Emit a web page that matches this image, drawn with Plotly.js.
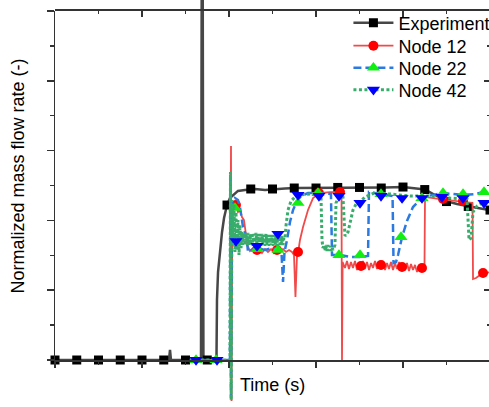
<!DOCTYPE html>
<html>
<head>
<meta charset="utf-8">
<script src="https://cdn.plot.ly/plotly-3.0.1.min.js"></script>
<style>
html,body{margin:0;padding:0;overflow:hidden;background:#fff;}
#chart{width:505px;height:407px;}
</style>
</head>
<body>
<div id="chart"></div>
<script>
// ---------- data (time, normalized mass flow rate) ----------
const expT = [0,131.0,132.2,133.3,167.8,168.7,169.7,170.6,185.6,186.2,187.4,189.7,192.0,194.3,197.7,201.1,204.6,210.3,218.4,229.9,241.4,252.9,264.4,275.9,293.1,310.3,327.6,344.8,362.1,379.3,400,413.8,425.3,436.8,449.4,462.1,474.7,486.2,500,501.2];
const expV = [0,0,0.072,0,0,3.0,3.0,0,0,0.43,0.63,0.788,0.917,1.017,1.110,1.160,1.182,1.211,1.218,1.225,1.218,1.225,1.228,1.232,1.232,1.236,1.236,1.236,1.232,1.236,1.239,1.232,1.221,1.182,1.139,1.117,1.100,1.089,1.074,1.073];
const expMarkT = [0,25,50,75,100,125,150,175,197.7,225,250,275,300,325,350,375,400,425,450,475,500];
const expMarkV = [0,0,0,0,0,0,0,0,1.110,1.225,1.225,1.232,1.232,1.236,1.236,1.232,1.239,1.221,1.135,1.100,1.074];

const n12T = [155,201.1,202.3,202.9,203.8,205.7,208.0,210.3,212.6,214.9,217.2,219.5,221.3,224.1,227.6,231.0,234.5,237.9,241.4,244.8,248.3,251.7,255.2,258.6,262.1,265.5,269.0,272.4,274.7,276.4,278.2,279.9,281.6,285.1,290.8,296.6,304.6,316.1,329.3,329.9,330.6,333.3,335.6,337.9,340.2,342.5,344.8,347.1,349.4,351.7,354.0,356.3,358.6,361.0,363.2,365.5,367.8,370.1,372.4,374.7,377.0,379.3,381.6,383.9,386.2,388.5,390.8,393.1,395.4,397.7,400,402.3,404.6,406.9,409.2,411.5,413.8,416.1,418.4,420.7,423.0,424.7,425.3,442.5,459.8,474.7,479.9,480.5,483.9,488.5,494.3,501.2];
const n12V = [0,0,1.533,-0.294,1.039,1.125,1.110,1.060,1.074,1.024,1.003,0.917,0.817,0.781,0.802,0.774,0.795,0.766,0.795,0.774,0.795,0.766,0.788,0.774,0.795,0.774,0.788,0.774,0.752,0.451,0.752,0.788,0.860,0.953,1.074,1.160,1.196,1.203,1.203,0,0.702,0.659,0.709,0.652,0.702,0.659,0.709,0.645,0.695,0.666,0.709,0.652,0.702,0.645,0.695,0.659,0.709,0.652,0.702,0.666,0.709,0.645,0.695,0.652,0.702,0.645,0.695,0.652,0.702,0.645,0.688,0.645,0.695,0.638,0.688,0.645,0.681,0.630,0.681,0.638,0.666,0.659,1.168,1.153,1.139,1.132,1.125,0.580,0.587,0.609,0.623,0.630];
const n12MarkT = [208.0,232.2,255.2,279.3,303.4,327.6,351.7,374.7,398.9,421.8,446.0,469.0,492.0];
const n12MarkV = [1.110,0.788,0.788,0.774,1.196,1.203,0.673,0.681,0.666,0.659,1.153,1.139,0.623];

const n22T = [155,201.1,201.6,202.3,203.4,206.9,210.3,212.6,216.1,220.3,221.8,226.4,233.3,241.4,249.4,257.5,260.3,262.1,263.8,266.7,270.1,273.6,278.2,282.8,290.8,304.6,317.2,318.4,327.6,339.1,350.6,359.8,360.9,373.6,388.0,389.1,392.0,394.3,398.9,404.6,411.5,419.5,428.7,446.0,469.0,482.8,493.1,501.2];
const n22V = [0,0,1.325,-0.272,1.110,1.160,1.146,1.096,0.953,0.881,0.774,0.788,0.802,0.788,0.802,0.788,0.774,0.559,0.774,0.860,0.989,1.074,1.139,1.175,1.196,1.196,1.189,0.752,0.752,0.738,0.738,0.745,1.203,1.189,1.175,0.695,0.702,0.752,0.881,0.996,1.096,1.146,1.175,1.196,1.182,1.189,1.203,1.203];
const n22MarkT = [162.1,185.1,206.9,232.2,256.3,279.3,302.3,326.4,350.6,374.7,397.7,421.8,446.0,469.0,493.1];
const n22MarkV = [0,0,1.089,0.795,0.788,1.125,1.196,0.752,0.752,1.189,0.881,1.160,1.196,1.189,1.203];

const n42T = [155,201.1,201.7,202.5,203.4,204.6,205.7,206.9,208.0,209.2,210.3,211.5,212.6,213.8,214.9,216.1,217.2,218.4,219.5,220.7,221.8,223.0,224.1,225.3,226.4,227.6,228.7,229.9,231.0,232.2,233.3,234.5,235.6,236.8,237.9,239.1,240.2,241.4,242.5,243.7,244.8,246.0,247.1,248.3,249.4,250.6,251.7,252.9,254.0,255.2,256.3,257.5,258.6,259.8,260.9,262.1,263.2,264.4,265.5,267.8,271.3,275.9,281.6,293.1,305.7,306.9,308.0,309.2,310.3,311.5,312.6,313.8,314.9,316.1,317.2,318.4,319.5,321.8,323.0,326.4,331.0,333.3,336.8,339.1,342.5,346.0,350.6,356.3,366.7,385.1,408.0,431.0,454.0,473.6,475.9,478.2,480.5,485.1,493.1,501.2];
const n42V = [0,0,1.347,-0.287,1.146,0.860,1.110,0.774,1.060,0.788,1.003,0.752,0.967,0.802,0.917,0.824,0.910,0.824,0.910,0.824,0.910,0.824,0.903,0.824,0.910,0.817,0.903,0.824,0.910,0.817,0.903,0.824,0.903,0.817,0.903,0.824,0.896,0.817,0.903,0.824,0.896,0.817,0.896,0.824,0.896,0.817,0.896,0.824,0.888,0.817,0.896,0.824,0.888,0.817,0.888,0.824,0.881,0.874,0.960,1.074,1.139,1.168,1.182,1.189,1.182,0.860,0.802,0.824,0.781,0.824,0.781,0.824,0.781,0.817,0.781,0.809,0.788,0.824,1.125,1.175,1.168,0.888,0.917,0.989,1.074,1.117,1.132,1.168,1.196,1.189,1.175,1.175,1.160,1.153,0.860,0.874,1.060,1.103,1.132,1.139];
const n42MarkT = [162.1,186.2,208.0,232.2,256.3,279.3,303.4,326.4,350.6,374.7,398.9,421.8,444.8,469.0,493.1];
const n42MarkV = [0,0,0.852,0.817,0.903,1.182,1.175,1.175,1.125,1.175,1.160,1.160,1.168,1.160,1.125];

const seriesNames = ['Experiment','Node 12','Node 22','Node 42'];
const xTitle = 'Time (s)';
const yTitle = 'Normalized mass flow rate (-)';

// ---------- styles ----------
const FONT = 'Liberation Sans, Arial, Helvetica, sans-serif';
const styles = [
  {line:{color:'#474747', width:2.5}, marker:{symbol:'square', size:9, color:'#000000'}},
  {line:{color:'#f04a4a', width:1.8}, marker:{symbol:'circle', size:10, color:'#ff0000'}},
  {line:{color:'#2a7ae2', width:2.5, dash:'8px,4px'}, marker:{symbol:'triangle-up', size:11.5, color:'#11ee11'}},
  {line:{color:'#38ad6b', width:3, dash:'3px,2.5px'}, marker:{symbol:'triangle-down', size:11.5, color:'#0000ff'}}
];
const lineData = [[expT,expV],[n12T,n12V],[n22T,n22V],[n42T,n42V]];
const markData = [[expMarkT,expMarkV],[n12MarkT,n12MarkV],[n22MarkT,n22MarkV],[n42MarkT,n42MarkV]];

const traces = [];
for (let i = 0; i < 4; i++) {
  traces.push({x:lineData[i][0], y:lineData[i][1], mode:'lines', line:styles[i].line,
    showlegend:false, hoverinfo:'skip', xaxis:'x', yaxis:'y'});
  traces.push({x:markData[i][0], y:markData[i][1], mode:'markers', marker:styles[i].marker,
    showlegend:false, hoverinfo:'skip', xaxis:'x', yaxis:'y', cliponaxis:false});
}
const legendIds = ['legend','legend2','legend3','legend4'];
for (let i = 0; i < 4; i++) {
  traces.push({x:[null], y:[null], mode:'lines+markers', name:seriesNames[i],
    line:styles[i].line, marker:styles[i].marker, legend:legendIds[i], xaxis:'x', yaxis:'y'});
}
traces.push({x:[null], y:[null], xaxis:'x2', yaxis:'y2', showlegend:false, hoverinfo:'skip'});
traces.push({x:[null], y:[null], xaxis:'x3', yaxis:'y3', showlegend:false, hoverinfo:'skip'});

// ---------- geometry ----------
const XR = [0, 501.15];
const frameDom = [0.115479, 0.972973];
const axCol = '#333333';
function frameX(side, ticks, anchor) {
  return {domain:[0,1], range:XR, anchor:anchor, side:side, showline:true, linecolor:axCol, linewidth:1.5,
    ticks:ticks, ticklen:6, tickwidth:1.5, tickcolor:axCol, tick0:0, dtick:100, showticklabels:false,
    showgrid:false, zeroline:false, fixedrange:true,
    minor:{dtick:50, ticks:ticks, ticklen:3, tickwidth:1.5, tickcolor:axCol, showgrid:false}};
}
function frameY(side, ticks, anchor) {
  return {domain:frameDom, range:[0,2.5], anchor:anchor, side:side, showline:true, linecolor:axCol, linewidth:1.5,
    ticks:ticks, ticklen:7, tickwidth:1.5, tickcolor:axCol, tick0:0, dtick:0.5, showticklabels:false,
    showgrid:false, zeroline:false, fixedrange:true,
    minor:{dtick:0.25, ticks:ticks, ticklen:4, tickwidth:1.5, tickcolor:axCol, showgrid:false}};
}
function leg(yc) {
  return {x:0.673, xanchor:'left', y:yc, yanchor:'middle', bgcolor:'rgba(0,0,0,0)', borderwidth:0,
    itemwidth:40, font:{family:FONT, size:18, color:'#000'}};
}

const layout = {
  width:505, height:407,
  margin:{l:55, r:14, t:0, b:0, pad:0},
  paper_bgcolor:'#ffffff', plot_bgcolor:'rgba(0,0,0,0)',
  font:{family:FONT, size:18, color:'#000'},
  xaxis:{domain:[0,1], range:XR, visible:false, fixedrange:true},
  yaxis:{domain:[0,1], range:[-0.3367, 2.5788], visible:false, fixedrange:true},
  xaxis2:frameX('bottom','outside','y2'),
  yaxis2:frameY('left','outside','x2'),
  xaxis3:frameX('top','inside','y3'),
  yaxis3:frameY('right','inside','x3'),
  legend:leg(0.9435), legend2:leg(0.887), legend3:leg(0.833), legend4:leg(0.779),
  annotations:[
    {text:xTitle, xref:'paper', yref:'paper', x:0.4989, y:0.054, xanchor:'center', yanchor:'middle',
     showarrow:false, font:{family:FONT, size:18, color:'#000'}},
    {text:yTitle, xref:'paper', yref:'paper', x:-0.086, y:0.5676, xanchor:'center', yanchor:'middle',
     textangle:-90, showarrow:false, font:{family:FONT, size:18, color:'#000'}}
  ]
};

Plotly.newPlot('chart', traces, layout, {staticPlot:true, displayModeBar:false});
</script>
</body>
</html>
